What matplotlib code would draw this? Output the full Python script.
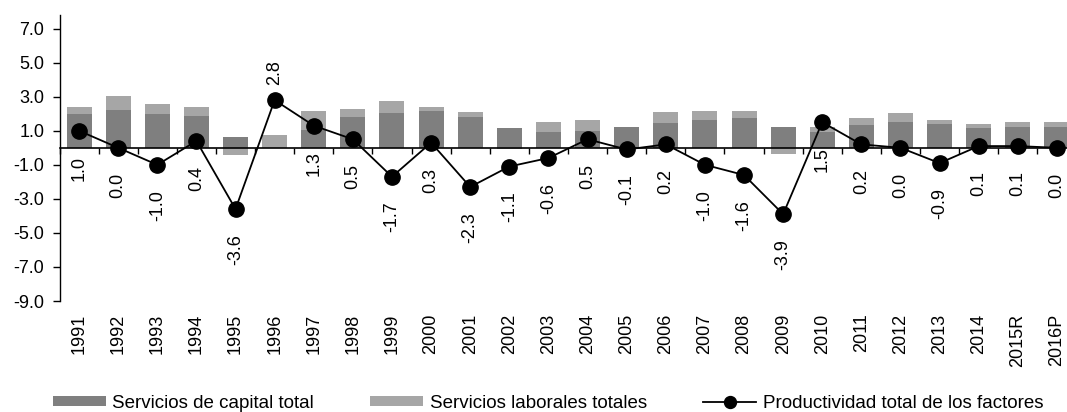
import numpy as np
import matplotlib
matplotlib.use("Agg")
import matplotlib.pyplot as plt

plt.rcParams['font.family'] = ['Liberation Sans', 'DejaVu Sans']
plt.rcParams['font.size'] = 13

years = ['1991', '1992', '1993', '1994', '1995', '1996', '1997', '1998', '1999',
         '2000', '2001', '2002', '2003', '2004', '2005', '2006', '2007', '2008',
         '2009', '2010', '2011', '2012', '2013', '2014', '2015R', '2016P']

# contribution of capital services (dark) and labour services (light)
capital = [1.96, 2.22, 2.00, 1.84, 0.63, 0.00, 1.06, 1.80, 2.04,
           2.14, 1.78, 1.18, 0.92, 0.96, 1.22, 1.45, 1.63, 1.76,
           1.25, 0.94, 1.31, 1.53, 1.39, 1.18, 1.25, 1.25]
labor = [0.45, 0.82, 0.55, 0.57, -0.43, 0.76, 1.12, 0.49, 0.72,
         0.23, 0.32, -0.10, 0.59, 0.69, -0.04, 0.65, 0.51, 0.40,
         -0.39, 0.28, 0.44, 0.49, 0.24, 0.21, 0.26, 0.26]
# total factor productivity
ptf = [1.0, 0.0, -1.0, 0.4, -3.6, 2.8, 1.3, 0.5, -1.7,
       0.3, -2.3, -1.1, -0.6, 0.5, -0.1, 0.2, -1.0, -1.6,
       -3.9, 1.5, 0.2, 0.0, -0.9, 0.1, 0.1, 0.0]

dark = '#7f7f7f'
light = '#a6a6a6'

x = np.arange(len(years))
capital = np.array(capital)
labor = np.array(labor)

fig = plt.figure(figsize=(10.67, 4.12), dpi=100)
ax = fig.add_axes([59.5 / 1067, 111 / 412, 1017 / 1067, 286 / 412])

# stack labour on top of capital; negatives go below zero
lab_bottom = np.where(labor >= 0, np.maximum(capital, 0), np.minimum(capital, 0))
b1 = ax.bar(x, capital, width=0.64, color=dark, label='Servicios de capital total', zorder=2)
b2 = ax.bar(x, labor, width=0.64, bottom=lab_bottom, color=light,
            label='Servicios laborales totales', zorder=2)
ln, = ax.plot(x, ptf, color='black', lw=1.3, marker='o', ms=11,
              label='Productividad total de los factores', zorder=3)

for xi, v in zip(x, ptf):
    if v > 2.5:
        ax.annotate(f'{v:.1f}', (xi, v), xytext=(0, 11), textcoords='offset points',
                    rotation=90, ha='center', va='bottom', fontsize=13)
    else:
        ax.annotate(f'{v:.1f}', (xi, v), xytext=(0, -18), textcoords='offset points',
                    rotation=90, ha='center', va='top', fontsize=13)

ax.set_xlim(-0.5, len(years) - 0.5)
ax.set_ylim(-9, 7.8)
ax.set_yticks(np.arange(-9, 8, 2))
ax.set_yticklabels([f'{t:.1f}' for t in np.arange(-9, 8, 2)])
ax.tick_params(axis='y', direction='out', length=5, width=1, pad=6, labelsize=13)

for s in ['top', 'right']:
    ax.spines[s].set_visible(False)
ax.spines['left'].set_linewidth(1)
ax.spines['bottom'].set_position(('data', 0))
ax.spines['bottom'].set_linewidth(1.2)
ax.spines['bottom'].set_zorder(2.5)
ax.set_xticks(np.arange(-0.5, len(years), 1))
ax.set_xticklabels([])
ax.tick_params(axis='x', direction='out', length=4, width=1)

sec = ax.secondary_xaxis('bottom')
sec.set_xticks(x)
sec.set_xticklabels(years, rotation=90, va='top')
sec.tick_params(length=0, pad=9, labelsize=13)
sec.spines['bottom'].set_visible(False)

fig.legend([b1, b2, ln], [b1.get_label(), b2.get_label(), ln.get_label()],
           loc='center left', bbox_to_anchor=(53 / 1067, 9 / 412), ncol=3,
           frameon=False, fontsize=13.5, handlelength=2.8, handleheight=0.48,
           handletextpad=0.37, columnspacing=3.0, borderpad=0, borderaxespad=0,
           markerscale=0.78)

fig.savefig('out.png', dpi=100)
